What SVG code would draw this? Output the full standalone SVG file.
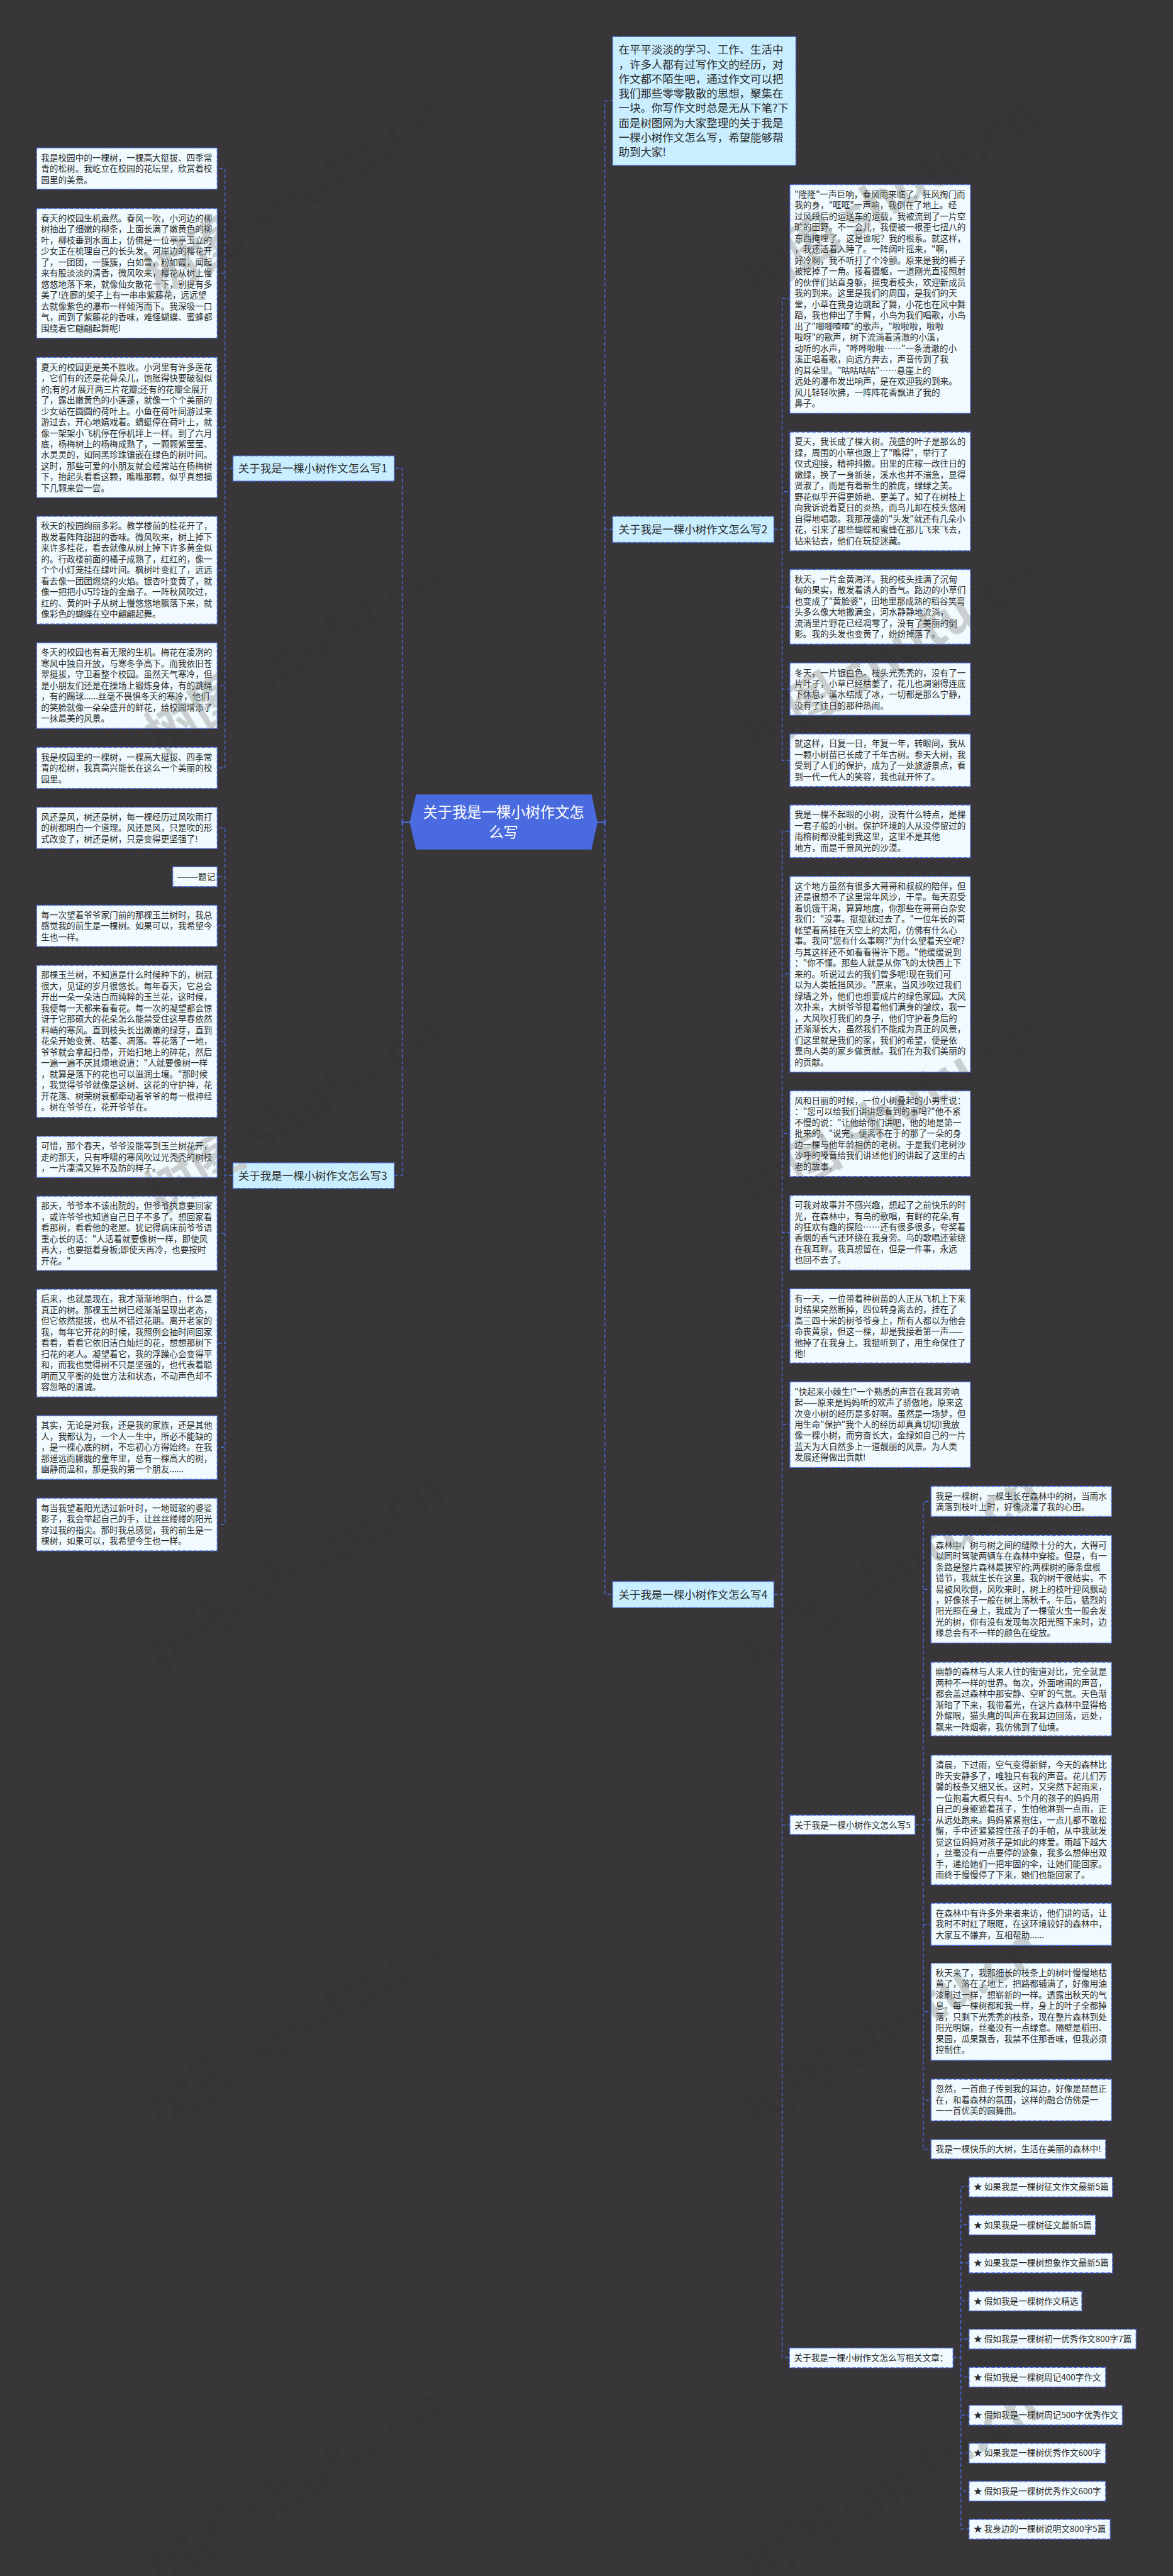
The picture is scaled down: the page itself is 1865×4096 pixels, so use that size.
<svg xmlns="http://www.w3.org/2000/svg" width="1865" height="4096" viewBox="0 0 1865 4096">
<style>
text{font-family:"Noto Sans CJK SC","Noto Sans",sans-serif;fill:#2b2b2b}
.b{fill:#f1fbff;stroke:#4a6bdf;stroke-width:2;stroke-dasharray:9 3}
.h{fill:#c8eeff;stroke:#4a6bdf;stroke-width:2;stroke-dasharray:9 3}
.t{font-size:18.7px}
.n{font-size:24px}
.c{fill:none;stroke:#4a6bdf;stroke-width:2;stroke-dasharray:8 5}
.s{fill:none;stroke:#4a6bdf;stroke-width:3}
.wm{font-size:112px;font-weight:700;fill:inherit}
.w1{fill:#363436}
.w2{fill:#c9cfcf;mix-blend-mode:darken}
</style>
<defs>
<text id="wm" class="wm">树图 shutu.cn</text>
</defs>
<rect width="1865" height="4096" fill="#383638"/>
<g transform="scale(0.7285)">
<g id="watermark-under" class="w1">
<use href="#wm" transform="translate(350 650) rotate(-31)"/>
<use href="#wm" transform="translate(350 1650) rotate(-31)"/>
<use href="#wm" transform="translate(350 2650) rotate(-31)"/>
<use href="#wm" transform="translate(350 3650) rotate(-31)"/>
<use href="#wm" transform="translate(350 4650) rotate(-31)"/>
<use href="#wm" transform="translate(350 5650) rotate(-31)"/>
<use href="#wm" transform="translate(1650 650) rotate(-31)"/>
<use href="#wm" transform="translate(1650 1650) rotate(-31)"/>
<use href="#wm" transform="translate(1650 2650) rotate(-31)"/>
<use href="#wm" transform="translate(1650 3650) rotate(-31)"/>
<use href="#wm" transform="translate(1650 4650) rotate(-31)"/>
<use href="#wm" transform="translate(1650 5650) rotate(-31)"/>
</g>
<g id="connectors">
<path class="s" d="M894 1795H878M878 1788V1802M1304 1795H1320M1320 1788V1802"/>
<path class="c" d="M878 1795V1022H860M878 1795V2566H860M1320 1795V220H1337M1320 1795V1155H1337M1320 1795V3480H1337"/>
<path class="c" d="M508 1022H491V368H474M508 1022H491V597H474M508 1022H491V933H474M508 1022H491V1245H474M508 1022H491V1496H474M508 1022H491V1676H474"/>
<path class="c" d="M508 2566H491V1807H474M508 2566H491V1914H474M508 2566H491V2021H474M508 2566H491V2273H474M508 2566H491V2525H474M508 2566H491V2692H474M508 2566H491V2932H474M508 2566H491V3159H474M508 2566H491V3327H474"/>
<path class="c" d="M1689 1155H1707V652H1724M1689 1155H1707V1073H1724M1689 1155H1707V1325H1724M1689 1155H1707V1504H1724M1689 1155H1707V1660H1724"/>
<path class="c" d="M1689 3480H1707V1815H1724M1689 3480H1707V2126H1724M1689 3480H1707V2474H1724M1689 3480H1707V2690H1724M1689 3480H1707V2894H1724M1689 3480H1707V3109H1724M1689 3480H1707V3983H1724M1689 3480H1707V5146H1724"/>
<path class="c" d="M1997 3983H2015V3277H2032M1997 3983H2015V3469H2032M1997 3983H2015V3708H2032M1997 3983H2015V3972H2032M1997 3983H2015V4200H2032M1997 3983H2015V4391H2032M1997 3983H2015V4584H2032M1997 3983H2015V4691H2032"/>
<path class="c" d="M2080 5146H2097V4773H2115M2080 5146H2097V4856H2115M2080 5146H2097V4939H2115M2080 5146H2097V5022H2115M2080 5146H2097V5105H2115M2080 5146H2097V5188H2115M2080 5146H2097V5271H2115M2080 5146H2097V5354H2115M2080 5146H2097V5437H2115M2080 5146H2097V5520H2115"/>
</g>
<g id="root"><path fill="#4a6bdf" d="M894 1795L908 1734H1291L1304 1795L1291 1854H908Z"/><text style="fill:#fff;font-size:32px" text-anchor="middle" x="1099" y="1785">关于我是一棵小树作文怎<tspan x="1099" dy="43">么写</tspan></text></g>
<g id="n1"><rect class="h" x="508.500" y="995" width="352" height="55"/><text class="n" x="520" y="1031">关于我是一棵小树作文怎么写1</text></g>
<g id="n3"><rect class="h" x="508.500" y="2538" width="352" height="56"/><text class="n" x="520" y="2575">关于我是一棵小树作文怎么写3</text></g>
<g id="n2"><rect class="h" x="1337" y="1127" width="352" height="57"/><text class="n" x="1350" y="1164">关于我是一棵小树作文怎么写2</text></g>
<g id="n4"><rect class="h" x="1337" y="3452" width="352" height="57"/><text class="n" x="1350" y="3489">关于我是一棵小树作文怎么写4</text></g>
<g id="intro"><rect class="h" x="1337" y="80" width="400" height="281"/><text class="n" x="1350" y="117">在平平淡淡的学习、工作、生活中<tspan x="1350" dy="32">，许多人都有过写作文的经历，对</tspan><tspan x="1350" dy="32">作文都不陌生吧，通过作文可以把</tspan><tspan x="1350" dy="32">我们那些零零散散的思想，聚集在</tspan><tspan x="1350" dy="32">一块。你写作文时总是无从下笔?下</tspan><tspan x="1350" dy="32">面是树图网为大家整理的关于我是</tspan><tspan x="1350" dy="32">一棵小树作文怎么写，希望能够帮</tspan><tspan x="1350" dy="32">助到大家!</tspan></text></g>

<g id="l1"><rect class="b" x="80" y="323" width="394" height="90"/><text class="t" x="89.500" y="351">我是校园中的一棵树，一棵高大挺拔、四季常<tspan x="89.500" dy="24">青的松树。我屹立在校园的花坛里，欣赏着校</tspan><tspan x="89.500" dy="24">园里的美景。</tspan></text></g>
<g id="l2"><rect class="b" x="80" y="455" width="394" height="283"/><text class="t" x="89.500" y="483">春天的校园生机盎然。春风一吹，小河边的柳<tspan x="89.500" dy="24">树抽出了细嫩的柳条，上面长满了嫩黄色的柳</tspan><tspan x="89.500" dy="24">叶，柳枝垂到水面上，仿佛是一位亭亭玉立的</tspan><tspan x="89.500" dy="24">少女正在梳理自己的长头发。河岸边的樱花开</tspan><tspan x="89.500" dy="24">了，一团团，一簇簇，白如雪，粉如霞，闻起</tspan><tspan x="89.500" dy="24">来有股淡淡的清香，微风吹来，樱花从树上慢</tspan><tspan x="89.500" dy="24">悠悠地落下来，就像仙女散花一下，别提有多</tspan><tspan x="89.500" dy="24">美了!连廊的架子上有一串串紫藤花，远远望</tspan><tspan x="89.500" dy="24">去就像紫色的瀑布一样倾泻而下。我深吸一口</tspan><tspan x="89.500" dy="24">气，闻到了紫藤花的香味，难怪蝴蝶、蜜蜂都</tspan><tspan x="89.500" dy="24">围绕着它翩翩起舞呢!</tspan></text></g>
<g id="l3"><rect class="b" x="80" y="780" width="394" height="306"/><text class="t" x="89.500" y="808">夏天的校园更是美不胜收。小河里有许多莲花<tspan x="89.500" dy="24">，它们有的还是花骨朵儿，饱胀得快要破裂似</tspan><tspan x="89.500" dy="24">的;有的才展开两三片花瓣;还有的花瓣全展开</tspan><tspan x="89.500" dy="24">了，露出嫩黄色的小莲蓬，就像一个个美丽的</tspan><tspan x="89.500" dy="24">少女站在圆圆的荷叶上。小鱼在荷叶间游过来</tspan><tspan x="89.500" dy="24">游过去，开心地嬉戏着。蜻蜓停在荷叶上，就</tspan><tspan x="89.500" dy="24">像一架架小飞机停在停机坪上一样。到了六月</tspan><tspan x="89.500" dy="24">底，杨梅树上的杨梅成熟了，一颗颗紫莹莹、</tspan><tspan x="89.500" dy="24">水灵灵的，如同黑珍珠镶嵌在绿色的树叶间。</tspan><tspan x="89.500" dy="24">这时，那些可爱的小朋友就会经常站在杨梅树</tspan><tspan x="89.500" dy="24">下，抬起头看看这颗，瞧瞧那颗，似乎真想摘</tspan><tspan x="89.500" dy="24">下几颗来尝一尝。</tspan></text></g>
<g id="l4"><rect class="b" x="80" y="1127" width="394" height="235"/><text class="t" x="89.500" y="1155">秋天的校园绚丽多彩。教学楼前的桂花开了，<tspan x="89.500" dy="24">散发着阵阵甜甜的香味。微风吹来，树上掉下</tspan><tspan x="89.500" dy="24">来许多桂花，看去就像从树上掉下许多黄金似</tspan><tspan x="89.500" dy="24">的。行政楼前面的橘子成熟了，红红的，像一</tspan><tspan x="89.500" dy="24">个个小灯笼挂在绿叶间。枫树叶变红了，远远</tspan><tspan x="89.500" dy="24">看去像一团团燃烧的火焰。银杏叶变黄了，就</tspan><tspan x="89.500" dy="24">像一把把小巧玲珑的金扇子。一阵秋风吹过，</tspan><tspan x="89.500" dy="24">红的、黄的叶子从树上慢悠悠地飘落下来，就</tspan><tspan x="89.500" dy="24">像彩色的蝴蝶在空中翩翩起舞。</tspan></text></g>
<g id="l5"><rect class="b" x="80" y="1403" width="394" height="187"/><text class="t" x="89.500" y="1431">冬天的校园也有着无限的生机。梅花在凌冽的<tspan x="89.500" dy="24">寒风中独自开放，与寒冬争高下。而我依旧苍</tspan><tspan x="89.500" dy="24">翠挺拔，守卫着整个校园。虽然天气寒冷，但</tspan><tspan x="89.500" dy="24">是小朋友们还是在操场上锻炼身体，有的跳绳</tspan><tspan x="89.500" dy="24">，有的踢球......丝毫不畏惧冬天的寒冷，他们</tspan><tspan x="89.500" dy="24">的笑脸就像一朵朵盛开的鲜花，给校园增添了</tspan><tspan x="89.500" dy="24">一抹最美的风景。</tspan></text></g>
<g id="l6"><rect class="b" x="80" y="1631" width="394" height="90"/><text class="t" x="89.500" y="1659">我是校园里的一棵树，一棵高大挺拔、四季常<tspan x="89.500" dy="24">青的松树，我真高兴能长在这么一个美丽的校</tspan><tspan x="89.500" dy="24">园里。</tspan></text></g>
<g id="l7"><rect class="b" x="80" y="1762" width="394" height="90"/><text class="t" x="89.500" y="1790">风还是风，树还是树，每一棵经历过风吹雨打<tspan x="89.500" dy="24">的树都明白一个道理。风还是风，只是吹的形</tspan><tspan x="89.500" dy="24">式改变了，树还是树，只是变得更坚强了!</tspan></text></g>
<g id="l8"><rect class="b" x="377" y="1892" width="97" height="43"/><text class="t" x="386.500" y="1920">———题记</text></g>
<g id="l9"><rect class="b" x="80" y="1976" width="394" height="90"/><text class="t" x="89.500" y="2004">每一次望着爷爷家门前的那棵玉兰树时，我总<tspan x="89.500" dy="24">感觉我的前生是一棵树。如果可以，我希望今</tspan><tspan x="89.500" dy="24">生也一样。</tspan></text></g>
<g id="l10"><rect class="b" x="80" y="2107" width="394" height="332"/><text class="t" x="89.500" y="2135">那棵玉兰树，不知道是什么时候种下的，树冠<tspan x="89.500" dy="24">很大，见证的岁月很悠长。每年春天，它总会</tspan><tspan x="89.500" dy="24">开出一朵一朵洁白而纯粹的玉兰花，这时候，</tspan><tspan x="89.500" dy="24">我便每一天都来看看花。每一次的凝望都会惊</tspan><tspan x="89.500" dy="24">讶于它那硕大的花朵怎么能禁受住这早春依然</tspan><tspan x="89.500" dy="24">料峭的寒风。直到枝头长出嫩嫩的绿芽，直到</tspan><tspan x="89.500" dy="24">花朵开始变黄、枯萎、凋落。等花落了一地，</tspan><tspan x="89.500" dy="24">爷爷就会拿起扫帚，开始扫地上的碎花，然后</tspan><tspan x="89.500" dy="24">一遍一遍不厌其烦地说道："人就要像树一样</tspan><tspan x="89.500" dy="24">，就算是落下的花也可以滋润土壤。"那时候</tspan><tspan x="89.500" dy="24">，我觉得爷爷就像是这树、这花的守护神，花</tspan><tspan x="89.500" dy="24">开花落、树荣树衰都牵动着爷爷的每一根神经</tspan><tspan x="89.500" dy="24">。树在爷爷在，花开爷爷在。</tspan></text></g>
<g id="l11"><rect class="b" x="80" y="2480" width="394" height="90"/><text class="t" x="89.500" y="2508">可惜，那个春天，爷爷没能等到玉兰树花开，<tspan x="89.500" dy="24">走的那天，只有呼啸的寒风吹过光秃秃的树枝</tspan><tspan x="89.500" dy="24">，一片凄清又猝不及防的样子。</tspan></text></g>
<g id="l12"><rect class="b" x="80" y="2611" width="394" height="162"/><text class="t" x="89.500" y="2639">那天，爷爷本不该出院的，但爷爷执意要回家<tspan x="89.500" dy="24">，或许爷爷也知道自己日子不多了。想回家看</tspan><tspan x="89.500" dy="24">看那树，看看他的老屋。犹记得病床前爷爷语</tspan><tspan x="89.500" dy="24">重心长的话："人活着就要像树一样，即使风</tspan><tspan x="89.500" dy="24">再大，也要挺着身板;即使天再冷，也要按时</tspan><tspan x="89.500" dy="24">开花。"</tspan></text></g>
<g id="l13"><rect class="b" x="80" y="2814" width="394" height="235"/><text class="t" x="89.500" y="2842">后来，也就是现在，我才渐渐地明白，什么是<tspan x="89.500" dy="24">真正的树。那棵玉兰树已经渐渐呈现出老态，</tspan><tspan x="89.500" dy="24">但它依然挺拔，也从不错过花期。离开老家的</tspan><tspan x="89.500" dy="24">我，每年它开花的时候，我照例会抽时间回家</tspan><tspan x="89.500" dy="24">看看，看看它依旧洁白灿烂的花，想想那树下</tspan><tspan x="89.500" dy="24">扫花的老人。凝望着它，我的浮躁心会变得平</tspan><tspan x="89.500" dy="24">和，而我也觉得树不只是坚强的，也代表着聪</tspan><tspan x="89.500" dy="24">明而又平衡的处世方法和状态，不动声色却不</tspan><tspan x="89.500" dy="24">容忽略的温诚。</tspan></text></g>
<g id="l14"><rect class="b" x="80" y="3090" width="394" height="139"/><text class="t" x="89.500" y="3118">其实，无论是对我，还是我的家族，还是其他<tspan x="89.500" dy="24">人，我都认为，一个人一生中，所必不能缺的</tspan><tspan x="89.500" dy="24">，是一棵心底的树，不忘初心方得始终。在我</tspan><tspan x="89.500" dy="24">那遥远而朦胧的童年里，总有一棵高大的树，</tspan><tspan x="89.500" dy="24">幽静而温和，那是我的第一个朋友......</tspan></text></g>
<g id="l15"><rect class="b" x="80" y="3270" width="394" height="115"/><text class="t" x="89.500" y="3298">每当我望着阳光透过新叶时，一地斑驳的婆娑<tspan x="89.500" dy="24">影子，我会举起自己的手，让丝丝缕缕的阳光</tspan><tspan x="89.500" dy="24">穿过我的指尖。那时我总感觉，我的前生是一</tspan><tspan x="89.500" dy="24">棵树，如果可以，我希望今生也一样。</tspan></text></g>

<g id="m1"><rect class="b" x="1724" y="403" width="394" height="499"/><text class="t" x="1734" y="431">"隆隆"一声巨响，春风雨来临了。狂风掏门而<tspan x="1734" dy="24">我的身，"哐哐"一声响，我倒在了地上。经</tspan><tspan x="1734" dy="24">过风段后的运送车的运载，我被流到了一片空</tspan><tspan x="1734" dy="24">旷的田野。不一会儿，我便被一根歪七扭八的</tspan><tspan x="1734" dy="24">东西掩埋了。这是谁呢？我的根系。就这样，</tspan><tspan x="1734" dy="24">，我还活着入睡了。一阵阔叶摇来，"啊，</tspan><tspan x="1734" dy="24">好冷啊，我不听打了个冷颤。原来是我的裤子</tspan><tspan x="1734" dy="24">被挖掉了一角。接着摄躯，一道刚光直接照射</tspan><tspan x="1734" dy="24">的伙伴们站直身躯，摇曳着枝头，欢迎新成员</tspan><tspan x="1734" dy="24">我的到来。这里是我们的周围，是我们的天</tspan><tspan x="1734" dy="24">堂，小草在我身边跳起了舞，小花也在风中舞</tspan><tspan x="1734" dy="24">蹈，我也伸出了手臂，小鸟为我们唱歌，小鸟</tspan><tspan x="1734" dy="24">出了"唧唧喳喳"的歌声，"啦啦啦，啦啦</tspan><tspan x="1734" dy="24">啦呀"的歌声，树下流淌着清澈的小溪，</tspan><tspan x="1734" dy="24">动听的水声，"哗哗啦啦……"一条清澈的小</tspan><tspan x="1734" dy="24">溪正唱着歌，向远方奔去，声音传到了我</tspan><tspan x="1734" dy="24">的耳朵里。"咕咕咕咕"……悬崖上的</tspan><tspan x="1734" dy="24">远处的瀑布发出响声，是在欢迎我的到来。</tspan><tspan x="1734" dy="24">风儿轻轻吹拂，一阵阵花香飘进了我的</tspan><tspan x="1734" dy="24">鼻子。</tspan></text></g>
<g id="m2"><rect class="b" x="1724" y="943" width="394" height="259"/><text class="t" x="1734" y="971">夏天，我长成了棵大树。茂盛的叶子是那么的<tspan x="1734" dy="24">绿，周围的小草也跟上了"瞧得"，举行了</tspan><tspan x="1734" dy="24">仪式迎接，精神抖擞。田里的庄稼一改往日的</tspan><tspan x="1734" dy="24">嫩绿，换了一身新装，溪水也并不湍急，显得</tspan><tspan x="1734" dy="24">贤淑了，而是有着新生的脸庞，绿绿之美。</tspan><tspan x="1734" dy="24">野花似乎开得更娇艳、更美了。知了在树枝上</tspan><tspan x="1734" dy="24">向我诉说着夏日的炎热，而鸟儿却在枝头悠闲</tspan><tspan x="1734" dy="24">自得地唱歌。我那茂盛的"头发"就还有几朵小</tspan><tspan x="1734" dy="24">花，引来了那些蝴蝶和蜜蜂在那儿飞来飞去，</tspan><tspan x="1734" dy="24">钻来钻去，他们在玩捉迷藏。</tspan></text></g>
<g id="m3"><rect class="b" x="1724" y="1243" width="394" height="163"/><text class="t" x="1734" y="1271">秋天，一片金黄海洋。我的枝头挂满了沉甸<tspan x="1734" dy="24">甸的果实，散发着诱人的香气。路边的小草们</tspan><tspan x="1734" dy="24">也变成了"黄脸婆"，田地里那成熟的稻谷笑弯</tspan><tspan x="1734" dy="24">头多么像大地撒满金，河水静静地流淌，</tspan><tspan x="1734" dy="24">流淌里片野花已经凋零了，没有了美丽的倒</tspan><tspan x="1734" dy="24">影。我的头发也变黄了，纷纷掉落了。</tspan></text></g>
<g id="m4"><rect class="b" x="1724" y="1447" width="394" height="114"/><text class="t" x="1734" y="1475">冬天，一片银白色。枝头光秃秃的，没有了一<tspan x="1734" dy="24">片叶子，小草已经枯萎了，花儿也凋谢得连底</tspan><tspan x="1734" dy="24">下休息，溪水结成了冰，一切都是那么宁静，</tspan><tspan x="1734" dy="24">没有了往日的那种热闹。</tspan></text></g>
<g id="m5"><rect class="b" x="1724" y="1602" width="394" height="115"/><text class="t" x="1734" y="1630">就这样，日复一日，年复一年，转眼间，我从<tspan x="1734" dy="24">一颗小树苗已长成了千年古树。参天大树，我</tspan><tspan x="1734" dy="24">受到了人们的保护，成为了一处旅游景点，看</tspan><tspan x="1734" dy="24">到一代一代人的笑容，我也就开怀了。</tspan></text></g>
<g id="m6"><rect class="b" x="1724" y="1757" width="394" height="115"/><text class="t" x="1734" y="1785">我是一棵不起眼的小树，没有什么特点，是棵<tspan x="1734" dy="24">一君子般的小树。保护环境的人从没停留过的</tspan><tspan x="1734" dy="24">雨榕树都没能到我这里，这里不是其他</tspan><tspan x="1734" dy="24">地方，而是千景风光的沙漠。</tspan></text></g>
<g id="m7"><rect class="b" x="1724" y="1913" width="394" height="427"/><text class="t" x="1734" y="1941">这个地方虽然有很多大哥哥和叔叔的陪伴，但<tspan x="1734" dy="24">还是很想不了这里常年风沙，干旱。每天忍受</tspan><tspan x="1734" dy="24">着饥饿干渴，算算地度，你那些在哥哥白杂安</tspan><tspan x="1734" dy="24">我们："没事。挺挺就过去了。"一位年长的哥</tspan><tspan x="1734" dy="24">帐望着高挂在天空上的太阳，仿佛有什么心</tspan><tspan x="1734" dy="24">事。我问"您有什么事啊?"为什么望着天空呢?</tspan><tspan x="1734" dy="24">与其这样还不如看看得许下愿。"他缓缓说到</tspan><tspan x="1734" dy="24">："你不懂。那些人就是从你飞的太快西上下</tspan><tspan x="1734" dy="24">来的。听说过去的我们曾多呢!现在我们可</tspan><tspan x="1734" dy="24">以为人类抵挡风沙。"原来，当风沙吹过我们</tspan><tspan x="1734" dy="24">绿墙之外，他们也想要成片的绿色家园。大风</tspan><tspan x="1734" dy="24">次扑来，大树爷爷挺着他们满身的皱纹，我一</tspan><tspan x="1734" dy="24">，大风吹打我们的身子，他们守护着身后的</tspan><tspan x="1734" dy="24">还渐渐长大，虽然我们不能成为真正的风景，</tspan><tspan x="1734" dy="24">们这里就是我们的家，我们的希望，便是依</tspan><tspan x="1734" dy="24">靠向人类的家乡做贡献。我们在为我们美丽的</tspan><tspan x="1734" dy="24">的贡献。</tspan></text></g>
<g id="m8"><rect class="b" x="1724" y="2381" width="394" height="187"/><text class="t" x="1734" y="2409">风和日丽的时候，一位小树叠起的小男生说：<tspan x="1734" dy="24">："您可以给我们讲讲您看到的事吗?"他不紧</tspan><tspan x="1734" dy="24">不慢的说："让他给你们讲吧，他的地是第一</tspan><tspan x="1734" dy="24">批来的。"说完，便离不在于的那了一朵的身</tspan><tspan x="1734" dy="24">边一棵与他年龄相仿的老树。于是我们老树沙</tspan><tspan x="1734" dy="24">沙呼的嗓音给我们讲述他们的讲起了这里的古</tspan><tspan x="1734" dy="24">老的故事。</tspan></text></g>
<g id="m9"><rect class="b" x="1724" y="2609" width="394" height="163"/><text class="t" x="1734" y="2637">可我对故事并不感兴趣，想起了之前快乐的时<tspan x="1734" dy="24">光，在森林中，有鸟的歌唱，有鲜的花朵,有</tspan><tspan x="1734" dy="24">的狂欢有趣的探险……还有很多很多，夸奖着</tspan><tspan x="1734" dy="24">香烟的香气还环绕在我身旁。鸟的歌唱还萦绕</tspan><tspan x="1734" dy="24">在我耳畔。我真想留在，但是一件事，永远</tspan><tspan x="1734" dy="24">也回不去了。</tspan></text></g>
<g id="m10"><rect class="b" x="1724" y="2813" width="394" height="162"/><text class="t" x="1734" y="2841">有一天，一位带着种树苗的人正从飞机上下来<tspan x="1734" dy="24">时结果突然断掉，四位转身离去的，挂在了</tspan><tspan x="1734" dy="24">高三四十米的树爷爷身上，所有人都以为他会</tspan><tspan x="1734" dy="24">命丧黄泉，但这一棵，却是我接着第一声——</tspan><tspan x="1734" dy="24">他掉了在我身上。我挺听到了，用生命保住了</tspan><tspan x="1734" dy="24">他!</tspan></text></g>
<g id="m11"><rect class="b" x="1724" y="3016" width="394" height="187"/><text class="t" x="1734" y="3044">"快起来小棘生!"一个熟悉的声音在我耳旁响<tspan x="1734" dy="24">起——原来是妈妈听的欢声了骄傲地，原来这</tspan><tspan x="1734" dy="24">次变小树的经历是多好啊。虽然是一场梦，但</tspan><tspan x="1734" dy="24">用生命"保护"我个人的经历却真真切切!我放</tspan><tspan x="1734" dy="24">像一棵小树，而穷奋长大，金绿如自己的一片</tspan><tspan x="1734" dy="24">蓝天为大自然多上一道靓丽的风景。为人类</tspan><tspan x="1734" dy="24">发展还得做出贡献!</tspan></text></g>

<g id="n5"><rect class="b" x="1724" y="3962" width="273" height="42"/><text class="t" x="1734" y="3990">关于我是一棵小树作文怎么写5</text></g>
<g id="n6"><rect class="b" x="1723" y="5125" width="357" height="43"/><text class="t" x="1733" y="5153">关于我是一棵小树作文怎么写相关文章：</text></g>

<g id="c1"><rect class="b" x="2032" y="3244" width="394" height="66"/><text class="t" x="2042" y="3272">我是一棵树，一棵生长在森林中的树，当雨水<tspan x="2042" dy="24">滴落到枝叶上时，好像浇灌了我的心田。</tspan></text></g>
<g id="c2"><rect class="b" x="2032" y="3351" width="394" height="235"/><text class="t" x="2042" y="3379">森林中，树与树之间的缝隙十分的大，大得可<tspan x="2042" dy="24">以同时驾驶两辆车在森林中穿梭。但是，有一</tspan><tspan x="2042" dy="24">条路是整片森林最狭窄的;两棵树的藤条盘根</tspan><tspan x="2042" dy="24">错节，我就生长在这里。我的树干很结实，不</tspan><tspan x="2042" dy="24">易被风吹倒，风吹来时，树上的枝叶迎风飘动</tspan><tspan x="2042" dy="24">，好像孩子一般在树上荡秋千。午后，猛烈的</tspan><tspan x="2042" dy="24">阳光照在身上，我成为了一棵萤火虫一般会发</tspan><tspan x="2042" dy="24">光的树，你有没有发现每次阳光照下来时，边</tspan><tspan x="2042" dy="24">缘总会有不一样的颜色在绽放。</tspan></text></g>
<g id="c3"><rect class="b" x="2032" y="3628" width="394" height="161"/><text class="t" x="2042" y="3656">幽静的森林与人来人往的街道对比，完全就是<tspan x="2042" dy="24">两种不一样的世界。每次，外面喧闹的声音，</tspan><tspan x="2042" dy="24">都会盖过森林中那安静、空旷的气氛。天色渐</tspan><tspan x="2042" dy="24">渐暗了下来，我带着光，在这片森林中显得格</tspan><tspan x="2042" dy="24">外耀眼，猫头鹰的叫声在我耳边回荡，远处，</tspan><tspan x="2042" dy="24">飘来一阵烟雾，我仿佛到了仙境。</tspan></text></g>
<g id="c4"><rect class="b" x="2032" y="3831" width="394" height="283"/><text class="t" x="2042" y="3859">清晨，下过雨，空气变得新鲜，今天的森林比<tspan x="2042" dy="24">昨天安静多了，唯独只有我的声音。花儿们芳</tspan><tspan x="2042" dy="24">馨的枝条又细又长。这时，又突然下起雨来，</tspan><tspan x="2042" dy="24">一位抱着大概只有4、5个月的孩子的妈妈用</tspan><tspan x="2042" dy="24">自己的身躯遮着孩子，生怕他淋到一点雨，正</tspan><tspan x="2042" dy="24">从远处跑来。妈妈紧紧抱住，一点儿都不敢松</tspan><tspan x="2042" dy="24">懈，手中还紧紧捏住孩子的手帕，从中我就发</tspan><tspan x="2042" dy="24">觉这位妈妈对孩子是如此的疼爱。雨越下越大</tspan><tspan x="2042" dy="24">，丝毫没有一点要停的迹象，我多么想伸出双</tspan><tspan x="2042" dy="24">手，递给她们一把牢固的伞，让她们能回家。</tspan><tspan x="2042" dy="24">雨终于慢慢停了下来，她们也能回家了。</tspan></text></g>
<g id="c5"><rect class="b" x="2032" y="4154" width="394" height="92"/><text class="t" x="2042" y="4182">在森林中有许多外来者来访，他们讲的话，让<tspan x="2042" dy="24">我时不时红了眼眶，在这环境较好的森林中，</tspan><tspan x="2042" dy="24">大家互不嫌弃，互相帮助......</tspan></text></g>
<g id="c6"><rect class="b" x="2032" y="4285" width="394" height="212"/><text class="t" x="2042" y="4313">秋天来了，我那细长的枝条上的树叶慢慢地枯<tspan x="2042" dy="24">黄了，落在了地上，把路都铺满了，好像用油</tspan><tspan x="2042" dy="24">漆刷过一样，想崭新的一样。透露出秋天的气</tspan><tspan x="2042" dy="24">息。每一棵树都和我一样，身上的叶子全都掉</tspan><tspan x="2042" dy="24">落，只剩下光秃秃的枝条，现在整片森林到处</tspan><tspan x="2042" dy="24">阳光明媚，丝毫没有一点绿意。隔壁是稻田、</tspan><tspan x="2042" dy="24">果园，瓜果飘香，我禁不住那香味，但我必须</tspan><tspan x="2042" dy="24">控制住。</tspan></text></g>
<g id="c7"><rect class="b" x="2032" y="4538" width="394" height="91"/><text class="t" x="2042" y="4566">忽然，一首曲子传到我的耳边，好像是琵琶正<tspan x="2042" dy="24">在，和着森林的氛围，这样的融合仿佛是一</tspan><tspan x="2042" dy="24">一一首优美的圆舞曲。</tspan></text></g>
<g id="c8"><rect class="b" x="2032" y="4670" width="381" height="42"/><text class="t" x="2042" y="4698">我是一棵快乐的大树，生活在美丽的森林中!</text></g>

<g id="r1"><rect class="b" x="2115" y="4752" width="313" height="43"/><text class="t" x="2125" y="4780">★ 如果我是一棵树征文作文最新5篇</text></g>
<g id="r2"><rect class="b" x="2115" y="4835" width="276" height="43"/><text class="t" x="2125" y="4863">★ 如果我是一棵树征文最新5篇</text></g>
<g id="r3"><rect class="b" x="2115" y="4918" width="313" height="43"/><text class="t" x="2125" y="4946">★ 如果我是一棵树想象作文最新5篇</text></g>
<g id="r4"><rect class="b" x="2115" y="5001" width="246" height="43"/><text class="t" x="2125" y="5029">★ 假如我是一棵树作文精选</text></g>
<g id="r5"><rect class="b" x="2115" y="5084" width="364.500" height="43"/><text class="t" x="2125" y="5112">★ 假如我是一棵树初一优秀作文800字7篇</text></g>
<g id="r6"><rect class="b" x="2115" y="5167" width="298" height="43"/><text class="t" x="2125" y="5195">★ 假如我是一棵树周记400字作文</text></g>
<g id="r7"><rect class="b" x="2115" y="5250" width="334.500" height="43"/><text class="t" x="2125" y="5278">★ 假如我是一棵树周记500字优秀作文</text></g>
<g id="r8"><rect class="b" x="2115" y="5333" width="298" height="43"/><text class="t" x="2125" y="5361">★ 如果我是一棵树优秀作文600字</text></g>
<g id="r9"><rect class="b" x="2115" y="5416" width="298" height="43"/><text class="t" x="2125" y="5444">★ 假如我是一棵树优秀作文600字</text></g>
<g id="r10"><rect class="b" x="2115" y="5499" width="308" height="43"/><text class="t" x="2125" y="5527">★ 我身边的一棵树说明文800字5篇</text></g>

<g id="watermark-over" class="w2">
<use href="#wm" transform="translate(350 650) rotate(-31)"/>
<use href="#wm" transform="translate(350 1650) rotate(-31)"/>
<use href="#wm" transform="translate(350 2650) rotate(-31)"/>
<use href="#wm" transform="translate(1650 650) rotate(-31)"/>
<use href="#wm" transform="translate(1650 1650) rotate(-31)"/>
<use href="#wm" transform="translate(1650 2650) rotate(-31)"/>
<use href="#wm" transform="translate(1650 3650) rotate(-31)"/>
<use href="#wm" transform="translate(1650 4650) rotate(-31)"/>
<use href="#wm" transform="translate(1650 5650) rotate(-31)"/>
</g>
</g>
</svg>
